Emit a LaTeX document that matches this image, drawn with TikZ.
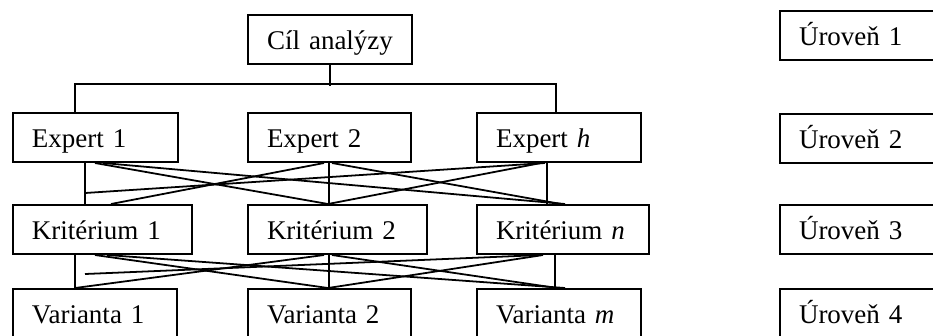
\documentclass[tikz,border=0pt]{standalone}
\usepackage{fontspec}
\setmainfont{Liberation Serif}
\usetikzlibrary{calc}

\begin{document}
\begin{tikzpicture}[x=0.45pt, y=-0.45pt,
        box/.style={draw, line width=0.9pt, anchor=north west, inner xsep=19*0.45pt, inner ysep=0pt,
            minimum height=49*0.45pt, text width={(#1-38)*0.45pt}, text height=12pt, text depth=2.6pt,
            align=left, font=\fontsize{12.15pt}{14pt}\selectfont},
        conn/.style={line width=0.8pt}]
        \clip (0,0) rectangle (933,335);
        % hierarchy
        \node[box=164] (cil) at (247,14) {Cíl analýzy};
        \node[box=165] (exp1) at (12,112) {Expert 1};
        \node[box=163] (exp2) at (247,112) {Expert 2};
        \node[box=164] (exph) at (476,112) {Expert \textit{h}};
        \node[box=179] (krit1) at (12,204) {Kritérium 1};
        \node[box=179] (krit2) at (247,204) {Kritérium 2};
        \node[box=172] (kritn) at (476,204) {Kritérium \textit{n}};
        \node[box=164] (var1) at (12,288) {Varianta 1};
        \node[box=163] (var2) at (247,288) {Varianta 2};
        \node[box=164] (varm) at (476,288) {Varianta \textit{m}};
        % levels
        \node[box=170] (urov1) at (779,10) {Úroveň 1};
        \node[box=170] (urov2) at (779,113) {Úroveň 2};
        \node[box=170] (urov3) at (779,204) {Úroveň 3};
        \node[box=170] (urov4) at (779,288) {Úroveň 4};
        % goal to experts
        \draw[conn] (cil.south) -- ++(0,21);
        \draw[conn] ($(exp1.north west)+(63,0)$) |- ($(exph.north west)+(80,-28)$) -- ($(exph.north west)+(80,0)$);
        % experts to criteria
        \coordinate (freea) at ($(krit1.north west)+(73,-11)$);
        \draw[conn] ($(exp1.south west)+(73,0)$) -- ($(krit1.north west)+(73,0)$);
        \draw[conn] ($(exp1.south west)+(83,0)$) -- ($(krit2.north west)+(81,0)$);
        \draw[conn] ($(exp1.south west)+(91,0)$) -- ($(kritn.north west)+(89,0)$);
        \draw[conn] ($(exp2.south west)+(77,0)$) -- ($(krit1.north west)+(99,0)$);
        \draw[conn] ($(exp2.south west)+(82,0)$) -- ($(krit2.north west)+(82,0)$);
        \draw[conn] ($(exp2.south west)+(85,0)$) -- ($(kritn.north west)+(85,0)$);
        \draw[conn] ($(exph.south west)+(69,0)$) -- (freea);
        \draw[conn] ($(exph.south west)+(65,0)$) -- ($(krit2.north west)+(81,0)$);
        \draw[conn] ($(exph.south west)+(71,0)$) -- ($(kritn.north west)+(71,0)$);
        % criteria to variants
        \coordinate (freeb) at ($(var1.north west)+(73,-14)$);
        \draw[conn] ($(krit1.south west)+(63,0)$) -- ($(var1.north west)+(63,0)$);
        \draw[conn] ($(krit1.south west)+(83,0)$) -- ($(var2.north west)+(81,0)$);
        \draw[conn] ($(krit1.south west)+(95,0)$) -- ($(varm.north west)+(89,0)$);
        \draw[conn] ($(krit2.south west)+(77,0)$) -- ($(var1.north west)+(63,0)$);
        \draw[conn] ($(krit2.south west)+(82,0)$) -- ($(var2.north west)+(82,0)$);
        \draw[conn] ($(krit2.south west)+(85,0)$) -- ($(varm.north west)+(81,0)$);
        \draw[conn] ($(kritn.south west)+(65,0)$) -- (freeb);
        \draw[conn] ($(kritn.south west)+(67,0)$) -- ($(var2.north west)+(81,0)$);
        \draw[conn] ($(kritn.south west)+(79,0)$) -- ($(varm.north west)+(79,0)$);
    \end{tikzpicture}
\end{document}
